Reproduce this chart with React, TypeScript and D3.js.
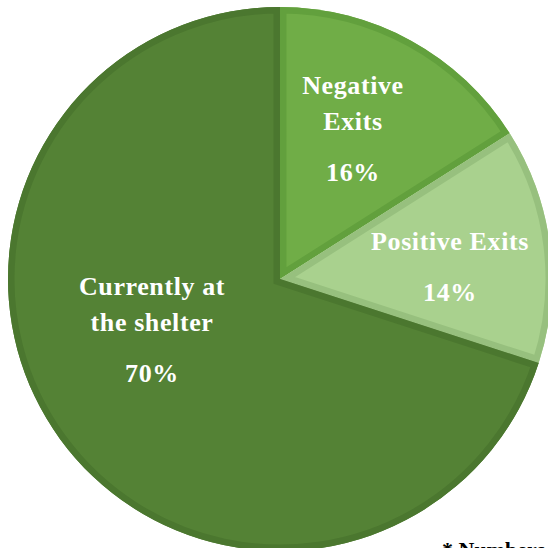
import React from "react";
import * as d3 from "d3";

const categories = ["Negative Exits", "Positive Exits", "Currently at the shelter"];
const values = [16, 14, 70];
const labelLines = [["Negative", "Exits"], ["Positive Exits"], ["Currently at", "the shelter"]];
const fills = ["#70ad47", "#a9d18e", "#548235"];
const borders = ["#62a03d", "#97c07e", "#4b772f"];
const footnote = "* Numbers";

const W = 548, H = 548;
const cx = 280, cy = 279, R = 272;

// layout: label anchor (center x, first baseline y) in page pixels
const labelX = [353, 450, 152];
const labelY = [94, 250, 295];
const lineH = 36;
const pctGap = 51;

export default function App() {
  const pie = d3.pie<number>().sort(null).value((d) => d);
  const arcs = pie(values);
  const arc = d3.arc<d3.PieArcDatum<number>>().innerRadius(0).outerRadius(R);
  const font = "'Liberation Serif', serif";
  return (
    <svg width={W} height={H} style={{ position: "absolute", left: 0, top: 0 }}>
      <defs>
        {arcs.map((a, i) => (
          <clipPath id={`clip${i}`} key={i}>
            <path d={arc(a) || ""} />
          </clipPath>
        ))}
      </defs>
      <g transform={`translate(${cx},${cy})`}>
        {arcs.map((a, i) => (
          <g key={i}>
            <path d={arc(a) || ""} fill={fills[i]} />
            <path
              d={arc(a) || ""}
              fill="none"
              stroke={borders[i]}
              strokeWidth={13}
              strokeLinejoin="miter"
              clipPath={`url(#clip${i})`}
            />
          </g>
        ))}
      </g>
      {arcs.map((a, i) => {
        const lines = labelLines[i];
        const x = labelX[i];
        const y0 = labelY[i];
        return (
          <text
            key={categories[i]}
            textAnchor="middle"
            fill="#ffffff"
            fontFamily={font}
            fontWeight="bold"
            fontSize={26}
            style={{ letterSpacing: "0.6px" }}
          >
            {lines.map((l, j) => (
              <tspan key={j} x={x} y={y0 + j * lineH}>
                {l}
              </tspan>
            ))}
            <tspan x={x} y={y0 + (lines.length - 1) * lineH + pctGap}>
              {`${values[i]}%`}
            </tspan>
          </text>
        );
      })}
      <text x={442} y={557} fontFamily={font} fontWeight="bold" fontSize={22} fill="#000">
        {footnote}
      </text>
    </svg>
  );
}
